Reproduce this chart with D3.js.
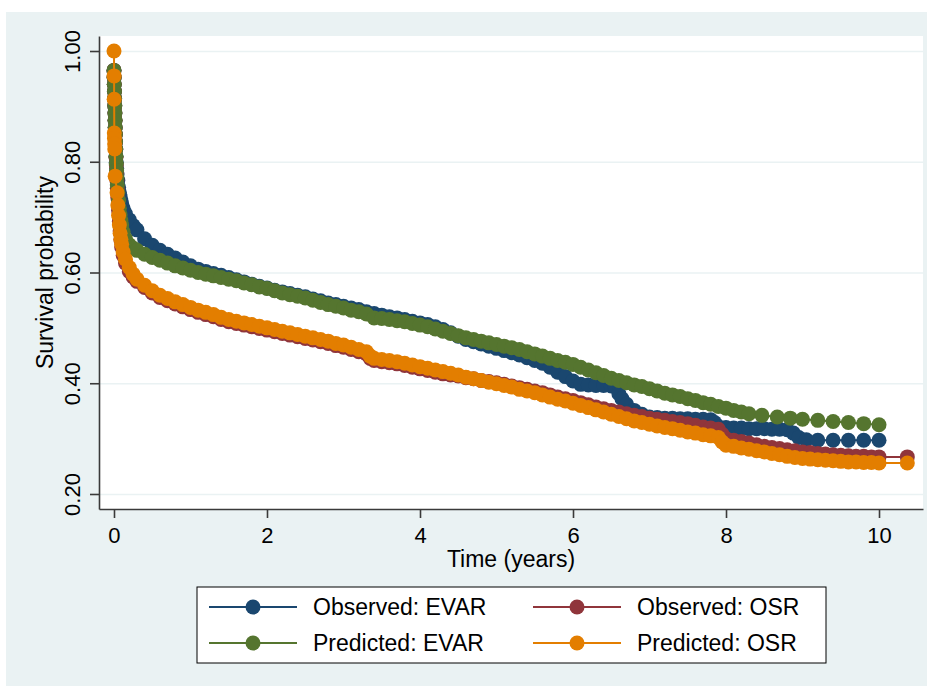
<!DOCTYPE html>
<html>
<head>
<meta charset="utf-8">
<script src="https://cdn.jsdelivr.net/npm/d3@7"></script>
<style>
  body { margin: 0; background: #fff; }
  svg { display: block; font-family: 'Liberation Sans', Arial, Helvetica, sans-serif; }
</style>
</head>
<body>
<svg id="chart" width="933" height="686"></svg>
<script>
const yTicks = [0.2, 0.4, 0.6, 0.8, 1.0]
const xTicks = [0, 2, 4, 6, 8, 10]
const seriesNames = ['Observed: EVAR', 'Observed: OSR', 'Predicted: EVAR', 'Predicted: OSR']

// [time in years, survival probability]
const obsEvar = [[0,0.965],[0.002,0.952],[0.004,0.94],[0.006,0.927],[0.008,0.914],[0.01,0.901],[0.012,0.888],[0.014,0.875],[0.016,0.862],[0.018,0.849],[0.02,0.836],[0.023,0.823],[0.026,0.81],[0.03,0.799],[0.035,0.788],[0.04,0.778],[0.05,0.766],[0.06,0.754],[0.07,0.745],[0.08,0.737],[0.09,0.73],[0.1,0.724],[0.12,0.716],[0.15,0.706],[0.2,0.695],[0.25,0.685],[0.3,0.677],[0.4,0.661],[0.5,0.649],[0.6,0.64],[0.7,0.633],[0.8,0.626],[0.9,0.619],[1.0,0.612],[1.1,0.606],[1.2,0.602],[1.3,0.598],[1.4,0.595],[1.5,0.591],[1.6,0.587],[1.7,0.583],[1.8,0.579],[1.9,0.575],[2.0,0.572],[2.1,0.568],[2.2,0.565],[2.3,0.562],[2.4,0.559],[2.5,0.556],[2.6,0.552],[2.7,0.549],[2.8,0.545],[2.9,0.542],[3.0,0.539],[3.1,0.536],[3.2,0.533],[3.3,0.529],[3.4,0.526],[3.5,0.523],[3.6,0.52],[3.7,0.518],[3.8,0.515],[3.9,0.512],[4.0,0.509],[4.1,0.506],[4.2,0.502],[4.3,0.497],[4.4,0.491],[4.5,0.485],[4.6,0.479],[4.7,0.475],[4.8,0.471],[4.9,0.467],[5.0,0.463],[5.1,0.459],[5.2,0.455],[5.3,0.451],[5.4,0.446],[5.5,0.441],[5.6,0.436],[5.7,0.429],[5.8,0.42],[5.9,0.412],[6.0,0.404],[6.1,0.398],[6.2,0.397],[6.3,0.396],[6.4,0.396],[6.5,0.395],[6.55,0.394],[6.6,0.381],[6.64,0.372],[6.7,0.362],[6.8,0.351],[6.9,0.344],[7.0,0.339],[7.1,0.338],[7.2,0.337],[7.3,0.337],[7.4,0.336],[7.5,0.336],[7.6,0.335],[7.7,0.335],[7.8,0.334],[7.85,0.329],[7.9,0.322],[8.0,0.32],[8.1,0.319],[8.2,0.319],[8.3,0.318],[8.4,0.318],[8.5,0.318],[8.6,0.317],[8.7,0.317],[8.8,0.316],[8.88,0.31],[8.95,0.302],[9.05,0.298],[9.2,0.297],[9.4,0.297],[9.6,0.297],[9.8,0.297],[10.0,0.297]]

const obsOsr = [[0,0.965],[0.002,0.952],[0.004,0.94],[0.006,0.927],[0.008,0.914],[0.01,0.901],[0.012,0.888],[0.014,0.875],[0.016,0.862],[0.018,0.849],[0.02,0.836],[0.023,0.822],[0.026,0.808],[0.03,0.794],[0.034,0.78],[0.038,0.766],[0.043,0.752],[0.05,0.735],[0.06,0.712],[0.07,0.692],[0.08,0.675],[0.09,0.659],[0.1,0.646],[0.12,0.631],[0.15,0.617],[0.2,0.602],[0.25,0.592],[0.3,0.584],[0.4,0.573],[0.5,0.563],[0.6,0.555],[0.7,0.549],[0.8,0.543],[0.9,0.538],[1.0,0.533],[1.1,0.528],[1.2,0.524],[1.3,0.52],[1.4,0.515],[1.5,0.511],[1.6,0.508],[1.7,0.505],[1.8,0.502],[1.9,0.499],[2.0,0.496],[2.1,0.493],[2.2,0.49],[2.3,0.487],[2.4,0.484],[2.5,0.481],[2.6,0.478],[2.7,0.475],[2.8,0.472],[2.9,0.468],[3.0,0.465],[3.1,0.461],[3.2,0.457],[3.3,0.453],[3.35,0.445],[3.4,0.441],[3.5,0.439],[3.6,0.437],[3.7,0.435],[3.8,0.432],[3.9,0.429],[4.0,0.426],[4.1,0.423],[4.2,0.42],[4.3,0.417],[4.4,0.415],[4.5,0.413],[4.6,0.41],[4.7,0.408],[4.8,0.405],[4.9,0.403],[5.0,0.401],[5.1,0.398],[5.2,0.395],[5.3,0.392],[5.4,0.389],[5.5,0.386],[5.6,0.383],[5.7,0.379],[5.8,0.375],[5.9,0.372],[6.0,0.369],[6.1,0.365],[6.2,0.361],[6.3,0.357],[6.4,0.354],[6.5,0.351],[6.6,0.348],[6.7,0.345],[6.8,0.342],[6.9,0.34],[7.0,0.337],[7.1,0.335],[7.2,0.333],[7.3,0.331],[7.4,0.329],[7.5,0.327],[7.6,0.324],[7.7,0.321],[7.8,0.319],[7.9,0.317],[7.95,0.308],[8.0,0.3],[8.1,0.297],[8.2,0.295],[8.3,0.292],[8.4,0.289],[8.5,0.286],[8.6,0.284],[8.7,0.282],[8.8,0.28],[8.9,0.278],[9.0,0.276],[9.1,0.275],[9.2,0.273],[9.3,0.272],[9.4,0.271],[9.5,0.27],[9.6,0.269],[9.7,0.268],[9.8,0.268],[9.9,0.267],[10.0,0.267],[10.37,0.267]]

const predEvar = [[0,0.965],[0.002,0.952],[0.004,0.94],[0.006,0.927],[0.008,0.914],[0.01,0.901],[0.012,0.888],[0.014,0.875],[0.016,0.862],[0.018,0.849],[0.02,0.836],[0.023,0.823],[0.026,0.81],[0.03,0.797],[0.034,0.784],[0.038,0.771],[0.043,0.758],[0.05,0.745],[0.06,0.73],[0.07,0.716],[0.08,0.704],[0.09,0.694],[0.1,0.686],[0.12,0.673],[0.15,0.661],[0.2,0.65],[0.25,0.644],[0.3,0.64],[0.4,0.633],[0.5,0.627],[0.6,0.622],[0.7,0.617],[0.8,0.612],[0.9,0.608],[1.0,0.604],[1.1,0.6],[1.2,0.597],[1.3,0.594],[1.4,0.591],[1.5,0.588],[1.6,0.585],[1.7,0.581],[1.8,0.578],[1.9,0.574],[2.0,0.571],[2.1,0.567],[2.2,0.563],[2.3,0.56],[2.4,0.557],[2.5,0.554],[2.6,0.55],[2.7,0.546],[2.8,0.542],[2.9,0.539],[3.0,0.536],[3.1,0.532],[3.2,0.529],[3.3,0.525],[3.4,0.518],[3.5,0.517],[3.6,0.515],[3.7,0.513],[3.8,0.511],[3.9,0.508],[4.0,0.505],[4.1,0.502],[4.2,0.498],[4.3,0.494],[4.4,0.49],[4.5,0.486],[4.6,0.482],[4.7,0.479],[4.8,0.476],[4.9,0.473],[5.0,0.47],[5.1,0.467],[5.2,0.464],[5.3,0.461],[5.4,0.457],[5.5,0.453],[5.6,0.449],[5.7,0.445],[5.8,0.441],[5.9,0.438],[6.0,0.434],[6.1,0.429],[6.2,0.424],[6.3,0.419],[6.4,0.414],[6.5,0.409],[6.6,0.405],[6.7,0.401],[6.8,0.397],[6.9,0.394],[7.0,0.39],[7.1,0.386],[7.2,0.382],[7.3,0.379],[7.4,0.376],[7.5,0.372],[7.6,0.369],[7.7,0.365],[7.8,0.362],[7.9,0.358],[8.0,0.355],[8.1,0.351],[8.2,0.348],[8.3,0.345],[8.47,0.342],[8.67,0.339],[8.84,0.337],[9.0,0.335],[9.2,0.333],[9.4,0.331],[9.6,0.329],[9.8,0.327],[10.0,0.325]]

const predOsr = [[0,1.0],[0.001,0.955],[0.002,0.913],[0.004,0.852],[0.006,0.842],[0.008,0.832],[0.01,0.823],[0.015,0.774],[0.04,0.744],[0.05,0.722],[0.06,0.703],[0.07,0.686],[0.08,0.671],[0.09,0.66],[0.1,0.651],[0.12,0.637],[0.15,0.624],[0.2,0.609],[0.25,0.597],[0.3,0.588],[0.4,0.577],[0.5,0.567],[0.6,0.559],[0.7,0.553],[0.8,0.547],[0.9,0.542],[1.0,0.537],[1.1,0.532],[1.2,0.528],[1.3,0.524],[1.4,0.519],[1.5,0.515],[1.6,0.512],[1.7,0.509],[1.8,0.506],[1.9,0.503],[2.0,0.5],[2.1,0.497],[2.2,0.494],[2.3,0.491],[2.4,0.488],[2.5,0.485],[2.6,0.482],[2.7,0.479],[2.8,0.476],[2.9,0.472],[3.0,0.469],[3.1,0.465],[3.2,0.461],[3.3,0.457],[3.35,0.449],[3.4,0.445],[3.5,0.443],[3.6,0.441],[3.7,0.439],[3.8,0.436],[3.9,0.433],[4.0,0.43],[4.1,0.427],[4.2,0.424],[4.3,0.421],[4.4,0.418],[4.5,0.415],[4.6,0.411],[4.7,0.408],[4.8,0.405],[4.9,0.402],[5.0,0.399],[5.1,0.396],[5.2,0.393],[5.3,0.389],[5.4,0.386],[5.5,0.383],[5.6,0.379],[5.7,0.375],[5.8,0.371],[5.9,0.368],[6.0,0.364],[6.1,0.36],[6.2,0.356],[6.3,0.352],[6.4,0.348],[6.5,0.344],[6.6,0.34],[6.7,0.336],[6.8,0.332],[6.9,0.329],[7.0,0.326],[7.1,0.323],[7.2,0.32],[7.3,0.318],[7.4,0.315],[7.5,0.312],[7.6,0.31],[7.7,0.307],[7.8,0.305],[7.9,0.302],[7.95,0.294],[8.0,0.288],[8.1,0.286],[8.2,0.283],[8.3,0.281],[8.4,0.278],[8.5,0.276],[8.6,0.273],[8.7,0.271],[8.8,0.268],[8.9,0.266],[9.0,0.264],[9.1,0.263],[9.2,0.262],[9.3,0.261],[9.4,0.26],[9.5,0.259],[9.6,0.258],[9.7,0.258],[9.8,0.257],[9.9,0.257],[10.0,0.256],[10.37,0.256]]

const seriesData = [obsEvar, obsOsr, predEvar, predOsr]
const colors = ['#1a476f', '#90353b', '#55752f', '#e37e00']

const svg = d3.select('#chart')
const plotLeft = 99, plotTop = 36, plotRight = 923, plotBottom = 509
const tickFont = 22
const labelFont = 23

svg.append('rect').attr('x', 6).attr('y', 12).attr('width', 921).attr('height', 674).attr('fill', '#eaf2f3')
svg.append('rect').attr('x', plotLeft).attr('y', plotTop)
    .attr('width', plotRight - plotLeft).attr('height', plotBottom - plotTop).attr('fill', '#fff')

const x = d3.scaleLinear().domain([-0.196, 10.575]).range([plotLeft, plotRight])
const y = d3.scaleLinear().domain([0.1729, 1.0271]).range([plotBottom, plotTop])

// grid
svg.append('g')
    .attr('transform', `translate(${plotLeft},0)`)
    .call(d3.axisLeft(y).tickValues(yTicks).tickSize(-(plotRight - plotLeft)).tickFormat(''))
    .call(g => g.select('.domain').remove())
    .selectAll('line').attr('stroke', '#eaf2f3').attr('stroke-width', 1.5)

const line = d3.line().x(d => x(d[0])).y(d => y(d[1]))

// draw order as in stata: obs evar, obs osr, pred evar, pred osr
seriesData.forEach((data, i) => {
    const g = svg.append('g')
    g.append('path')
        .datum(data)
        .attr('d', line)
        .attr('fill', 'none')
        .attr('stroke', colors[i])
        .attr('stroke-width', 2)
    g.selectAll('circle')
        .data(data)
        .enter()
        .append('circle')
        .attr('cx', d => x(d[0]))
        .attr('cy', d => y(d[1]))
        .attr('r', 7.5)
        .attr('fill', colors[i])
})

const axisColor = '#3a3a3a'

const yAxis = svg.append('g')
    .attr('transform', `translate(${plotLeft},0)`)
    .call(d3.axisLeft(y).tickValues(yTicks).tickFormat(d3.format('.2f')).tickSize(9).tickSizeOuter(0))
yAxis.attr('font-size', tickFont).attr('font-family', null)
yAxis.selectAll('path, line').attr('stroke', axisColor).attr('stroke-width', 1.6)
yAxis.selectAll('text')
    .attr('x', 0)
    .attr('dy', 0)
    .attr('fill', '#000')
    .attr('text-anchor', 'middle')
    .attr('transform', 'translate(-19,0) rotate(-90)')

const xAxis = svg.append('g')
    .attr('transform', `translate(0,${plotBottom})`)
    .call(d3.axisBottom(x).tickValues(xTicks).tickSize(9).tickPadding(9).tickSizeOuter(0))
xAxis.attr('font-size', tickFont).attr('font-family', null)
xAxis.selectAll('path, line').attr('stroke', axisColor).attr('stroke-width', 1.6)
xAxis.selectAll('text').attr('fill', '#000')

svg.append('text')
    .attr('transform', `translate(53,${(plotTop + plotBottom) / 2}) rotate(-90)`)
    .attr('text-anchor', 'middle')
    .attr('font-size', labelFont)
    .text('Survival probability')

svg.append('text')
    .attr('x', (plotLeft + plotRight) / 2)
    .attr('y', 567)
    .attr('text-anchor', 'middle')
    .attr('font-size', labelFont)
    .text('Time (years)')

// legend
const legend = svg.append('g')
legend.append('rect')
    .attr('x', 197).attr('y', 587).attr('width', 629).attr('height', 76)
    .attr('fill', '#fff').attr('stroke', '#000').attr('stroke-width', 1)

const colX = [209, 533]
const rowY = [607, 643]

seriesNames.forEach((name, i) => {
    const lx = colX[i % 2]
    const ly = rowY[Math.floor(i / 2)]
    legend.append('line')
        .attr('x1', lx).attr('x2', lx + 88)
        .attr('y1', ly).attr('y2', ly)
        .attr('stroke', colors[i]).attr('stroke-width', 2)
    legend.append('circle')
        .attr('cx', lx + 44).attr('cy', ly).attr('r', 7.5)
        .attr('fill', colors[i])
    legend.append('text')
        .attr('x', lx + 104).attr('y', ly)
        .attr('dy', '0.36em')
        .attr('font-size', labelFont)
        .text(name)
})
</script>
</body>
</html>
